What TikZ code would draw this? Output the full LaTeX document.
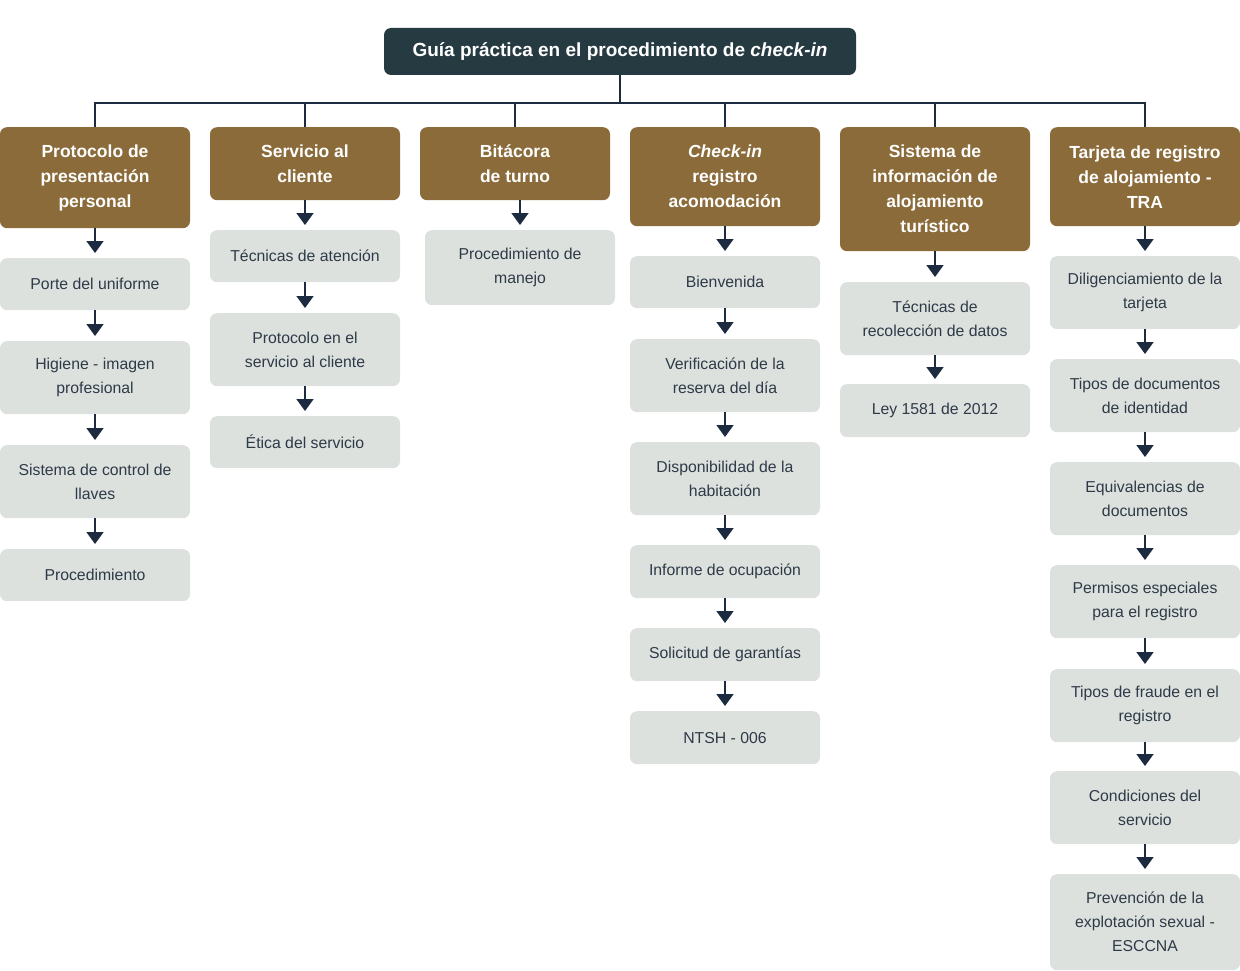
\documentclass[tikz,border=0pt]{standalone}
\usepackage{fontspec}
\setmainfont{Liberation Sans}
\usetikzlibrary{arrows.meta}
\definecolor{titlebg}{HTML}{263A42}
\definecolor{headbg}{HTML}{8B6B3A}
\definecolor{itembg}{HTML}{DDE1DE}
\definecolor{itemtext}{HTML}{2E3A47}
\definecolor{linecol}{HTML}{1C2B40}
\tikzset{
  title/.style={fill=titlebg, text=white, rounded corners=7pt, font=\fontsize{19}{24}\selectfont\bfseries,
    minimum width=472pt, minimum height=47pt, inner sep=0pt},
  header/.style={fill=headbg, text=white, rounded corners=7pt, anchor=north, align=center,
    font=\fontsize{17.5}{25}\selectfont\bfseries, minimum width=190pt, inner sep=0pt},
  item/.style={fill=itembg, text=itemtext, rounded corners=7pt, anchor=north, align=center,
    font=\fontsize{15.8}{24}\selectfont, minimum width=190pt, inner sep=0pt},
  conn/.style={draw=linecol, line width=1.8pt},
  arr/.style={conn, -{Triangle[width=17pt,length=12pt]}, shorten >=5pt}
}
\begin{document}
\begin{tikzpicture}[x=1pt, y=-1pt]
  \useasboundingbox (0,0) rectangle (1240,971);
  \node[title] (t) at (620,51.5) {Guía práctica en el procedimiento de \textit{check-in}};
  % headers
  \node[header, minimum height=101pt] (h1) at (95,127) {Protocolo de\\presentación\\personal};
  \node[header, minimum height=73pt] (h2) at (305,127) {Servicio al\\cliente};
  \node[header, minimum height=73pt] (h3) at (515,127) {Bitácora\\de turno};
  \node[header, minimum height=99pt] (h4) at (725,127) {\textit{Check-in}\\registro\\acomodación};
  \node[header, minimum height=124pt] (h5) at (935,127) {Sistema de\\información de\\alojamiento\\turístico};
  \node[header, minimum height=99pt] (h6) at (1145,127) {Tarjeta de registro\\de alojamiento -\\TRA};
  % column 1
  \node[item, minimum height=52pt] (a1) at (95,258) {Porte del uniforme};
  \node[item, minimum height=73pt] (a2) at (95,341) {Higiene - imagen\\profesional};
  \node[item, minimum height=73pt] (a3) at (95,445) {Sistema de control de\\llaves};
  \node[item, minimum height=52pt] (a4) at (95,549) {Procedimiento};
  % column 2
  \node[item, minimum height=52pt] (b1) at (305,230) {Técnicas de atención};
  \node[item, minimum height=73pt] (b2) at (305,313) {Protocolo en el\\servicio al cliente};
  \node[item, minimum height=52pt] (b3) at (305,416) {Ética del servicio};
  % column 3
  \node[item, minimum height=75pt] (c1) at (520,230) {Procedimiento de\\manejo};
  % column 4
  \node[item, minimum height=52pt] (d1) at (725,256) {Bienvenida};
  \node[item, minimum height=73pt] (d2) at (725,339) {Verificación de la\\reserva del día};
  \node[item, minimum height=73pt] (d3) at (725,442) {Disponibilidad de la\\habitación};
  \node[item, minimum height=53pt] (d4) at (725,545) {Informe de ocupación};
  \node[item, minimum height=53pt] (d5) at (725,628) {Solicitud de garantías};
  \node[item, minimum height=53pt] (d6) at (725,711) {NTSH - 006};
  % column 5
  \node[item, minimum height=73pt] (e1) at (935,282) {Técnicas de\\recolección de datos};
  \node[item, minimum height=53pt] (e2) at (935,384) {Ley 1581 de 2012};
  % column 6
  \node[item, minimum height=73pt] (f1) at (1145,256) {Diligenciamiento de la\\tarjeta};
  \node[item, minimum height=73pt] (f2) at (1145,359) {Tipos de documentos\\de identidad};
  \node[item, minimum height=73pt] (f3) at (1145,462) {Equivalencias de\\documentos};
  \node[item, minimum height=73pt] (f4) at (1145,565) {Permisos especiales\\para el registro};
  \node[item, minimum height=73pt] (f5) at (1145,669) {Tipos de fraude en el\\registro};
  \node[item, minimum height=73pt] (f6) at (1145,771) {Condiciones del\\servicio};
  \node[item, minimum height=96pt] (f7) at (1145,874) {Prevención de la\\explotación sexual -\\ESCCNA};
  % bus
  \coordinate (bus) at (620,103);
  \draw[conn] (t.south) -- (bus);
  \draw[conn] (h1.north) |- (bus) -| (h6.north);
  \draw[conn] (h2.north) -- (h2.north |- bus);
  \draw[conn] (h3.north) -- (h3.north |- bus);
  \draw[conn] (h4.north) -- (h4.north |- bus);
  \draw[conn] (h5.north) -- (h5.north |- bus);
  % arrows
  \draw[arr] (h1) -- (a1);
  \draw[arr] (a1) -- (a2);
  \draw[arr] (a2) -- (a3);
  \draw[arr] (a3) -- (a4);
  \draw[arr] (h2) -- (b1);
  \draw[arr] (b1) -- (b2);
  \draw[arr] (b2) -- (b3);
  \draw[arr] (h3.south -| c1.north) -- (c1.north);
  \draw[arr] (h4) -- (d1);
  \draw[arr] (d1) -- (d2);
  \draw[arr] (d2) -- (d3);
  \draw[arr] (d3) -- (d4);
  \draw[arr] (d4) -- (d5);
  \draw[arr] (d5) -- (d6);
  \draw[arr] (h5) -- (e1);
  \draw[arr] (e1) -- (e2);
  \draw[arr] (h6) -- (f1);
  \draw[arr] (f1) -- (f2);
  \draw[arr] (f2) -- (f3);
  \draw[arr] (f3) -- (f4);
  \draw[arr] (f4) -- (f5);
  \draw[arr] (f5) -- (f6);
  \draw[arr] (f6) -- (f7);
\end{tikzpicture}
\end{document}
